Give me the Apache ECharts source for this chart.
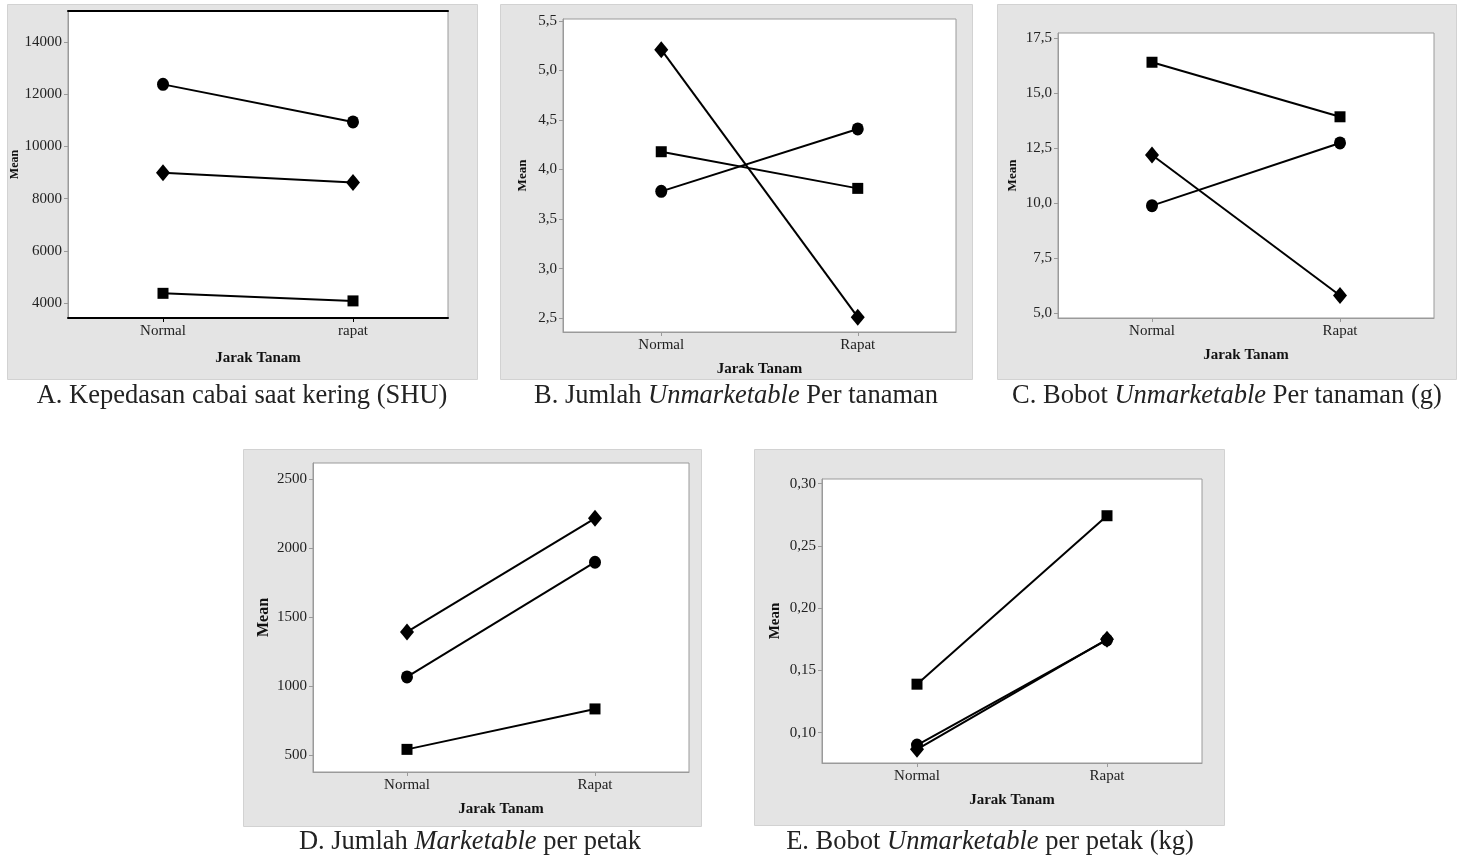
<!DOCTYPE html>
<html>
<head>
<meta charset="utf-8">
<script src="https://cdn.jsdelivr.net/npm/echarts@6/dist/echarts.min.js"></script>
<style>
html,body{margin:0;padding:0;background:#fff;}
#c{width:1462px;height:858px;}
</style>
</head>
<body>
<div id="c"></div>
<script>
// ---------- data ----------
const catsA = ['Normal', 'rapat'];
const cats = ['Normal', 'Rapat'];

// A. Kepedasan cabai saat kering (SHU)
const circleA = [12380, 10940];
const diamondA = [8990, 8620];
const squareA = [4375, 4085];
const ticksA = [4000, 6000, 8000, 10000, 12000, 14000];

// B. Jumlah Unmarketable Per tanaman
const circleB = [3.78, 4.41];
const squareB = [4.18, 3.81];
const diamondB = [5.21, 2.51];
const ticksB = [2.5, 3.0, 3.5, 4.0, 4.5, 5.0, 5.5];

// C. Bobot Unmarketable Per tanaman (g)
const squareC = [16.40, 13.92];
const circleC = [9.88, 12.73];
const diamondC = [12.18, 5.79];
const ticksC = [5.0, 7.5, 10.0, 12.5, 15.0, 17.5];

// D. Jumlah Marketable per petak
const diamondD = [1394, 2217];
const circleD = [1068, 1899];
const squareD = [543, 836];
const ticksD = [500, 1000, 1500, 2000, 2500];

// E. Bobot Unmarketable per petak (kg)
const squareE = [0.139, 0.2743];
const circleE = [0.0901, 0.1745];
const diamondE = [0.0867, 0.175];
const ticksE = [0.10, 0.15, 0.20, 0.25, 0.30];

const captionA = 'A. Kepedasan cabai saat kering (SHU)';
const captionB = 'B. Jumlah {i|Unmarketable} Per tanaman';
const captionC = 'C. Bobot {i|Unmarketable} Per tanaman (g)';
const captionD = 'D. Jumlah {i|Marketable} per petak';
const captionE = 'E. Bobot {i|Unmarketable} per petak (kg)';
const xName = 'Jarak Tanam';
const yName = 'Mean';

// ---------- layout ----------
const FONT = 'Liberation Serif';
const CAP_FS = 26.5;
const panels = [
  {bg: [7, 4, 470, 375],   grid: {left: 68,  top: 11,  width: 380, height: 307}, min: 3430, max: 15190, ticks: ticksA, dec: 0, cats: catsA,
   s: {circle: circleA, rect: squareA, diamond: diamondA}, yGap: 43, yFs: 12, xGap: 33, cap: captionA, capPos: [242, 396], black: true},
  {bg: [500, 4, 472, 375], grid: {left: 563, top: 19,  width: 393, height: 313}, min: 2.36, max: 5.52, ticks: ticksB, dec: 1, cats: cats,
   s: {circle: circleB, rect: squareB, diamond: diamondB}, yGap: 34, yFs: 13, xGap: 30, cap: captionB, capPos: [736, 396]},
  {bg: [997, 4, 459, 375], grid: {left: 1058, top: 33, width: 376, height: 285}, min: 4.77, max: 17.73, ticks: ticksC, dec: 1, cats: cats,
   s: {circle: circleC, rect: squareC, diamond: diamondC}, yGap: 39, yFs: 13, xGap: 30, cap: captionC, capPos: [1227, 396]},
  {bg: [243, 449, 458, 377], grid: {left: 313, top: 463, width: 376, height: 309}, min: 379, max: 2618, ticks: ticksD, dec: 0, cats: cats,
   s: {circle: circleD, rect: squareD, diamond: diamondD}, yGap: 41, yFs: 16, xGap: 30, cap: captionD, capPos: [470, 842]},
  {bg: [754, 449, 470, 376], grid: {left: 822, top: 479, width: 380, height: 284}, min: 0.0757, max: 0.3038, ticks: ticksE, dec: 2, cats: cats,
   s: {circle: circleE, rect: squareE, diamond: diamondE}, yGap: 39, yFs: 15, xGap: 30, cap: captionE, capPos: [990, 842]}
];

const symSize = {circle: [12, 13], rect: [11, 11], diamond: [14, 17]};

const grids = [], xAxes = [], yAxes = [], series = [], graphics = [];

panels.forEach((p, i) => {
  graphics.push({
    type: 'rect', z: -10,
    shape: {x: p.bg[0] + 0.5, y: p.bg[1] + 0.5, width: p.bg[2], height: p.bg[3]},
    style: {fill: '#e4e4e4', stroke: '#d2d2d2', lineWidth: 1}
  });
  graphics.push({
    type: 'text', z: 10,
    x: p.capPos[0], y: p.capPos[1],
    style: {
      text: p.cap, fill: '#222', fontSize: CAP_FS, fontFamily: FONT,
      align: 'center', verticalAlign: 'middle', textAlign: 'center', textVerticalAlign: 'middle',
      rich: {i: {fontStyle: 'italic', fontSize: CAP_FS, fontFamily: FONT, fill: '#222'}}
    }
  });
  grids.push(Object.assign({show: true, backgroundColor: '#fff', borderColor: '#9a9a9a', borderWidth: 1}, p.grid));
  const axCol = p.black ? '#000' : '#9a9a9a';
  xAxes.push({
    type: 'category', gridIndex: i, data: p.cats, boundaryGap: true,
    name: xName, nameLocation: 'middle', nameGap: p.xGap,
    nameTextStyle: {fontFamily: FONT, fontWeight: 'bold', fontSize: 15, color: '#111'},
    axisLine: {show: true, lineStyle: {color: axCol, width: p.black ? 2 : 1}},
    axisTick: {show: true, alignWithLabel: true, length: 4, lineStyle: {color: axCol}},
    axisLabel: {margin: 6, fontFamily: FONT, fontSize: 15, color: '#222'},
    splitLine: {show: false}
  });
  yAxes.push({
    type: 'value', gridIndex: i, min: p.min, max: p.max,
    name: yName, nameLocation: 'middle', nameGap: p.yGap, nameRotate: 90,
    nameTextStyle: {fontFamily: FONT, fontWeight: 'bold', fontSize: p.yFs, color: '#111'},
    axisLine: {show: true, lineStyle: {color: '#9a9a9a'}},
    axisTick: {show: true, length: 4, lineStyle: {color: '#9a9a9a'}, customValues: p.ticks},
    axisLabel: {margin: 6, fontFamily: FONT, fontSize: 15, color: '#222', customValues: p.ticks,
      formatter: v => p.dec ? v.toFixed(p.dec).replace('.', ',') : String(Math.round(v))},
    splitLine: {show: false}
  });
  const xi = xAxes.length - 1;
  if (p.black) {
    xAxes.push({
      type: 'category', gridIndex: i, data: p.cats, position: 'top',
      axisLine: {show: true, lineStyle: {color: '#000', width: 2}},
      axisTick: {show: false}, axisLabel: {show: false}, splitLine: {show: false}
    });
  }
  ['circle', 'rect', 'diamond'].forEach(sym => {
    series.push({
      type: 'line', xAxisIndex: xi, yAxisIndex: i, data: p.s[sym],
      symbol: sym, symbolSize: symSize[sym], showSymbol: true,
      lineStyle: {color: '#000', width: 2}, itemStyle: {color: '#000'},
      silent: true, animation: false
    });
  });
});

const chart = echarts.init(document.getElementById('c'), null, {renderer: 'canvas'});
chart.setOption({
  backgroundColor: '#fff',
  animation: false,
  grid: grids, xAxis: xAxes, yAxis: yAxes, series: series,
  graphic: {elements: graphics}
});
</script>
</body>
</html>
